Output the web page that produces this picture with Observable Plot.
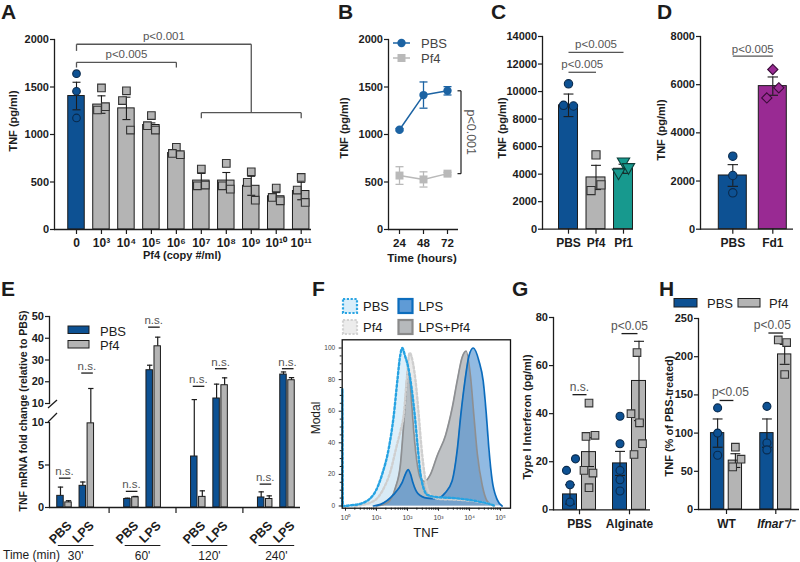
<!DOCTYPE html>
<html>
<head>
<meta charset="utf-8">
<script src="https://cdn.jsdelivr.net/npm/d3@7"></script>
<script src="https://cdn.jsdelivr.net/npm/@observablehq/plot@0.6"></script>
<style>
  html, body { margin: 0; padding: 0; background: #fff; }
  #fig { position: relative; width: 800px; height: 562px; overflow: hidden; background: #fff; }
</style>
</head>
<body>
<div id="fig"></div>
<script>
// ================= DATA =================
// Panel A
const aLabels = ["0","10³","10⁴","10⁵","10⁶","10⁷","10⁸","10⁹","10¹⁰","10¹¹"];
const aMean = [1405,1315,1275,1100,805,515,515,460,350,405];
const aSem  = [145,92,118,22,25,75,85,100,38,92];
const aRep1 = [1640,1490,1460,1199,865,636,696,608,436,548];
const aRep2 = [1455,1258,1357,1093,801,460,460,496,337,415];
const aRep3 = [1174,1293,1047,1047,787,468,425,309,302,285];
const aYTicks = [0,500,1000,1500,2000];

// Panel B
const bTimes = [24,48,72];
const bPBS = [1050,1415,1460];
const bPBSsem = [12,138,44];
const bPf4 = [568,527,588];
const bPf4sem = [93,80,14];
const bYTicks = [0,500,1000,1500,2000];

// Panel C
const cLabels = ["PBS","Pf4","Pf1"];
const cMean = [9000,3760,4390];
const cSem = [820,880,330];
const cRep1 = [10560,5400,4916];
const cRep2 = [9000,2810,4117];
const cRep3 = [8950,3220,4505];
const cYTicks = [0,2000,4000,6000,8000,10000,12000,14000];

// Panel D
const dLabels = ["PBS","Fd1"];
const dMean = [2230,5940];
const dSem = [450,380];
const dRep1 = [3030,6630];
const dRep2 = [2230,5870];
const dRep3 = [1510,5450];
const dYTicks = [0,2000,4000,6000,8000];

// Panel E (order: 30' PBS, 30' LPS, 60' PBS, 60' LPS, 120' PBS, 120' LPS, 240' PBS, 240' LPS)
const eTimes = ["30'","60'","120'","240'"];
const eStim = ["PBS","LPS"];
const ePBSmean = [1.37,2.55,1.0,25.3,6.0,12.3,1.18,23.3];
const ePBSerr  = [2.4,3.0,1.1,27.6,11.8,18.9,1.84,24.5];
const ePf4mean = [0.6,9.9,1.2,36.3,1.25,18.4,1.0,20.7];
const ePf4err  = [0.8,16.9,1.3,40.5,1.96,21.8,1.37,21.9];
const eNsLevel = [3.45,24.0,1.9,45.1,17.9,26.0,2.75,26.0];
const eTopTicks = [10,20,30,40,50];
const eBotTicks = [0,5,10];

// Panel F (x = log10 TNF, y = % of max)
const fPBS = [[-0.106,0],[-0.1,74],[-0.085,0],[0.2,0.5],[0.48,1.4],[0.91,7.4],[1.18,20],[1.4,37],[1.56,58],[1.67,79],[1.77,96],[1.83,100],[1.92,95],[2.02,88],[2.1,79],[2.23,58],[2.33,37],[2.42,20],[2.64,7],[3.0,5.5],[3.5,5],[4.25,3],[4.6,1.5],[4.85,0]];
const fPf4 = [[0.3,0],[0.9,3],[1.2,10],[1.45,22],[1.65,38],[1.78,48],[1.88,58],[1.97,79],[2.07,97],[2.16,92],[2.26,79],[2.36,58],[2.45,37],[2.55,20],[2.74,7],[3.0,4.5],[3.6,4],[4.2,3],[4.6,1.5],[4.85,0]];
const fLPS = [[0.9,0],[1.13,1],[1.54,7],[1.83,15],[1.95,21],[2.02,23],[2.1,20],[2.17,15],[2.33,8],[2.63,5],[2.95,4.6],[3.2,8],[3.44,16],[3.6,35],[3.72,58],[3.85,79],[3.98,95],[4.12,100],[4.3,92],[4.44,79],[4.54,58],[4.62,37],[4.73,16],[4.89,4],[5.05,0]];
const fLPSPf4 = [[1.0,0],[1.35,2],[1.61,11.6],[1.77,26],[1.86,47.5],[1.94,68.5],[2.01,86],[2.08,80],[2.12,68.5],[2.2,47.5],[2.31,27],[2.42,17.5],[2.55,15.5],[2.74,20],[2.96,32],[3.23,45],[3.44,62],[3.6,79],[3.76,94],[3.89,98],[4.03,82],[4.14,57],[4.25,33],[4.41,13],[4.57,3],[4.78,0]];
const fYTicks = [0,20,40,60,80,100];
const fXTicks = [0,1,2,3,4,5];
const fXLabels = ["10⁰","10¹","10²","10³","10⁴","10⁵"];

// Panel G
const gGroups = ["PBS","Alginate"];
const gPBSmean = [6.4,19.3];
const gPBSsem = [4.0,5.0];
const gPf4mean = [24.0,53.6];
const gPf4sem = [6.0,16.5];
const gBluePBS = [16.4,21.2,10.4,3.2];
const gGrayPBS = [44.4,30.5,31,16.4,15.3,9.2];
const gBlueAlg = [38.9,27.5,16.4,12.5,7.8];
const gGrayAlg = [65.4,40,36.2,27.5,23];
const gYTicks = [0,20,40,60,80];

// Panel H
const hGroups = ["WT","Ifnar⁻/⁻"];
const hPBSmean = [100,100];
const hPBSsem = [18.5,18.5];
const hPf4mean = [64,203];
const hPf4sem = [9,13];
const hBlueWT = [133,100,71];
const hGrayWT = [81.5,55.8,65.8];
const hBlueKO = [135,87,78];
const hGrayKO = [222,218.5,176.7];
const hYTicks = [0,50,100,150,200,250];

// ================= STYLE / HELPERS =================
const FONT = "'Liberation Sans', Arial, Helvetica, sans-serif";
const BLUE = "#0d5193", BLUE2 = "#1c63a3", GRAY = "#b4b4b4", LGRAY = "#b9b9b9";
const TEAL = "#17998e", PURPLE = "#992a93";
const INK = "#1c1c1c", ANN = "#555555";
const fig = document.getElementById("fig");
const plain = d => String(d);

function put(el, left, top) {
  el.style.position = "absolute"; el.style.left = left + "px"; el.style.top = top + "px";
  fig.appendChild(el); return el;
}
function sty(extra = {}) {
  return Object.assign({fontFamily: FONT, fontSize: "11px", fontWeight: "bold", color: INK,
    background: "transparent", overflow: "visible"}, extra);
}
function bars(items, half, fill) {
  return Plot.rect(items, {x1: d => d.x - half, x2: d => d.x + half, y1: 0, y2: "mean",
    fill, stroke: INK, strokeWidth: 1});
}
function errs(items, cap, stroke = INK, sw = 1.1) {
  const hi = d => d.mean + d.sem, lo = d => d.mean - d.sem;
  return [
    Plot.ruleX(items, {x: "x", y1: lo, y2: hi, stroke, strokeWidth: sw}),
    Plot.link(items, {x1: d => d.x - cap, x2: d => d.x + cap, y1: hi, y2: hi, stroke, strokeWidth: sw}),
    Plot.link(items, {x1: d => d.x - cap, x2: d => d.x + cap, y1: lo, y2: lo, stroke, strokeWidth: sw})
  ];
}
function bracketSegs(list) {
  return list.flatMap(b => [
    {x1: b.from, y1: b.y, x2: b.to, y2: b.y},
    {x1: b.from, y1: b.y, x2: b.from, y2: b.yl},
    {x1: b.to, y1: b.y, x2: b.to, y2: b.yr}
  ]);
}
function axisLines() {
  return [Plot.ruleY([0], {stroke: INK, strokeWidth: 1.3}), Plot.frame({anchor: "left", stroke: INK, strokeWidth: 1.3})];
}
function yAxis(ticks, extra = {}) {
  return Plot.axisY(Object.assign({ticks, tickFormat: plain, tickSize: 4, tickPadding: 1.5, label: null, strokeWidth: 1.2}, extra));
}

// ================= PANEL A =================
const A_JIT = [0, -0.16, 0.16];
const aItems = aMean.map((m, i) => ({x: i, mean: m, sem: aSem[i]}));
const aPts = [aRep1, aRep2, aRep3].flatMap((rep, r) => rep.map((v, i) => ({i, x: i + (i === 0 ? 0 : A_JIT[r]), v})));
const aBrackets = [
  {from: 0, to: 4, y: 1760, yl: 1705, yr: 1705, label: "p<0.005"},
  {from: 5, to: 9, y: 1230, yl: 1172, yr: 1172, label: ""},
  {from: 0, to: 7, y: 1950, yl: 1880, yr: 1230, label: "p<0.001"}
];
put(Plot.plot({
  width: 315, height: 270, marginLeft: 54, marginRight: 4, marginTop: 39, marginBottom: 41,
  style: sty(),
  x: {domain: [0, 9], range: [76, 300.7], axis: null},
  y: {domain: [0, 2000], axis: null},
  marks: [
    bars(aItems.filter(d => d.x === 0), 0.33, BLUE),
    bars(aItems.filter(d => d.x > 0), 0.33, GRAY),
    errs(aItems, 0.16),
    Plot.dot(aPts.filter(d => d.i === 0), {x: "x", y: "v", r: 3.8, fill: BLUE, stroke: "#0a2a4c", strokeWidth: 1.1}),
    Plot.dot(aPts.filter(d => d.i > 0), {x: "x", y: "v", r: 4.3, symbol: "square", fill: GRAY, stroke: "#333", strokeWidth: 1.1}),
    axisLines(),
    yAxis(aYTicks),
    Plot.axisX({ticks: d3.range(aLabels.length), tickFormat: i => aLabels[i], tickSize: 5, tickPadding: 4, label: null, strokeWidth: 1.2, fontSize: 12}),
    Plot.link(bracketSegs(aBrackets), {x1: "x1", y1: "y1", x2: "x2", y2: "y2", stroke: ANN, strokeWidth: 1.3}),
    Plot.text(aBrackets.filter(b => b.label), {x: b => (b.from + b.to) / 2, y: "y", text: "label", dy: -4.5, lineAnchor: "bottom", fontWeight: "normal", fontSize: 11.5, fill: ANN})
  ]
}), 0, 0);

// ================= PANEL B =================
const bPBSd = bTimes.map((t, i) => ({x: t, mean: bPBS[i], sem: bPBSsem[i]}));
const bPf4d = bTimes.map((t, i) => ({x: t, mean: bPf4[i], sem: bPf4sem[i]}));
const bLast = bTimes.length - 1;
const bBr = {x: bTimes[bLast] + 13.5, xt: bTimes[bLast] + 10, top: bPBS[bLast], bottom: bPf4[bLast]};
put(Plot.plot({
  width: 180, height: 270, marginLeft: 88, marginRight: 22, marginTop: 39, marginBottom: 41,
  style: sty(),
  x: {domain: [24, 72], range: [99, 147], axis: null},
  y: {domain: [0, 2000], axis: null},
  marks: [
    axisLines(),
    yAxis(bYTicks),
    Plot.axisX({ticks: bTimes, tickSize: 5, tickPadding: 4, label: null, strokeWidth: 1.2, fontSize: 11.5}),
    errs(bPf4d, 4, LGRAY, 1.3),
    Plot.line(bPf4d, {x: "x", y: "mean", stroke: LGRAY, strokeWidth: 1.5}),
    Plot.dot(bPf4d, {x: "x", y: "mean", symbol: "square", r: 4.5, fill: LGRAY}),
    errs(bPBSd, 4, BLUE2, 1.3),
    Plot.line(bPBSd, {x: "x", y: "mean", stroke: BLUE2, strokeWidth: 1.5}),
    Plot.dot(bPBSd, {x: "x", y: "mean", r: 4.2, fill: BLUE2}),
    Plot.link([
      {x1: bBr.x, y1: bBr.top, x2: bBr.x, y2: bBr.bottom},
      {x1: bBr.xt, y1: bBr.top, x2: bBr.x, y2: bBr.top},
      {x1: bBr.xt, y1: bBr.bottom, x2: bBr.x, y2: bBr.bottom}
    ], {x1: "x1", y1: "y1", x2: "x2", y2: "y2", stroke: INK, strokeWidth: 1.2}),
    Plot.text(["p<0.001"], {x: bTimes[bLast] + 23, y: (bBr.top + bBr.bottom) / 2, text: d => d, rotate: 90, fontWeight: "normal", fontSize: 12.5, fill: ANN})
  ]
}), 300, 0);

// ================= PANEL C =================
const C_JIT = [0, -0.18, 0.18];
const cItems = cMean.map((m, i) => ({x: i, mean: m, sem: cSem[i]}));
const cPts = [cRep1, cRep2, cRep3].flatMap((rep, r) => rep.map((v, i) => ({i, x: i + C_JIT[r], v})));
const cBrackets = [
  {from: 0, to: 1, y: 11400, label: "p<0.005"},
  {from: 0, to: 2, y: 12850, label: "p<0.005"}
];
put(Plot.plot({
  width: 145, height: 270, marginLeft: 42, marginRight: 12, marginTop: 36, marginBottom: 41.3,
  style: sty(),
  x: {domain: [0, 2], range: [68, 123], axis: null},
  y: {domain: [0, 14000], axis: null},
  marks: [
    bars(cItems.filter(d => d.x === 0), 0.345, BLUE),
    bars(cItems.filter(d => d.x === 1), 0.345, GRAY),
    bars(cItems.filter(d => d.x === 2), 0.345, TEAL),
    errs(cItems, 0.18),
    Plot.dot(cPts.filter(d => d.i === 0), {x: "x", y: "v", r: 4.2, fill: BLUE, stroke: "#0a2a4c", strokeWidth: 1.1}),
    Plot.dot(cPts.filter(d => d.i === 1), {x: "x", y: "v", r: 4.6, symbol: "square", fill: GRAY, stroke: "#333", strokeWidth: 1.1}),
    Plot.dot(cPts.filter(d => d.i === 2), {x: "x", y: "v", r: 4.6, symbol: "triangle", rotate: 180, fill: TEAL, stroke: "#0d3d38", strokeWidth: 1.1}),
    axisLines(),
    yAxis(cYTicks),
    Plot.axisX({ticks: d3.range(cLabels.length), tickFormat: i => cLabels[i], tickSize: 5, tickPadding: 4, label: null, strokeWidth: 1.2, fontSize: 12}),
    Plot.link(cBrackets, {x1: "from", x2: "to", y1: "y", y2: "y", stroke: ANN, strokeWidth: 1.3}),
    Plot.text(cBrackets, {x: b => (b.from + b.to) / 2, y: "y", text: "label", dy: -4, lineAnchor: "bottom", fontWeight: "normal", fontSize: 11.5, fill: ANN})
  ]
}), 500, 0);

// ================= PANEL D =================
const D_JIT = [[0, 0, 0], [0, 0.15, -0.15]];
const dItems = dMean.map((m, i) => ({x: i, mean: m, sem: dSem[i]}));
const dPts = [dRep1, dRep2, dRep3].flatMap((rep, r) => rep.map((v, i) => ({i, x: i + D_JIT[i][r], v})));
const dBrackets = [{from: 0, to: 1, y: 7183, label: "p<0.005"}];
put(Plot.plot({
  width: 145, height: 270, marginLeft: 45, marginRight: 7, marginTop: 36, marginBottom: 41.3,
  style: sty(),
  x: {domain: [0, 1], range: [77.3, 117.3], axis: null},
  y: {domain: [0, 8000], axis: null},
  marks: [
    bars(dItems.filter(d => d.x === 0), 0.35, BLUE),
    bars(dItems.filter(d => d.x === 1), 0.35, PURPLE),
    errs(dItems, 0.13),
    Plot.dot(dPts.filter(d => d.i === 0), {x: "x", y: "v", r: 4.2, fill: BLUE, stroke: "#0a2a4c", strokeWidth: 1.1}),
    Plot.dot(dPts.filter(d => d.i === 1), {x: "x", y: "v", r: 4.6, symbol: "diamond2", fill: PURPLE, stroke: "#3a0c38", strokeWidth: 1.1}),
    axisLines(),
    yAxis(dYTicks),
    Plot.axisX({ticks: d3.range(dLabels.length), tickFormat: i => dLabels[i], tickSize: 5, tickPadding: 4, label: null, strokeWidth: 1.2, fontSize: 12}),
    Plot.link(dBrackets, {x1: "from", x2: "to", y1: "y", y2: "y", stroke: ANN, strokeWidth: 1.3}),
    Plot.text(dBrackets, {x: b => (b.from + b.to) / 2, y: "y", text: "label", dy: -3, lineAnchor: "bottom", fontWeight: "normal", fontSize: 11.5, fill: ANN})
  ]
}), 655, 0);

// ================= PANEL E (broken axis: two plots) =================
const E_OFF = 0.18, E_HALF = 0.145, E_CAP = 0.12;
const eBars = [];
const eNs = [];
ePBSmean.forEach((_, k) => {
  const slot = Math.floor(k / 2) * 3 + (k % 2);
  eBars.push({x: slot - E_OFF, fill: BLUE, mean: ePBSmean[k], err: ePBSerr[k]});
  eBars.push({x: slot + E_OFF, fill: GRAY, mean: ePf4mean[k], err: ePf4err[k]});
  eNs.push({x: slot, y: eNsLevel[k]});
});
const eGroupsD = eTimes.map((t, g) => ({c: g * 3 + 0.5, label: t}));
const eDataSlots = eTimes.flatMap((t, g) => eStim.map((s, j) => ({x: g * 3 + j, label: s})));
const eGapSlots = eTimes.slice(1).map((t, g) => g * 3 + 2);
const eXs = {domain: [0, 10], range: [64, 287], axis: null};
const eTopBars = eBars.filter(d => d.mean > 10);
const eTopErr = eBars.filter(d => d.err > 10);
const eNsTop = eNs.filter(d => d.y > 10);
const eNsBot = eNs.filter(d => d.y <= 10);
const nsMarks = list => [
  Plot.link(list, {x1: d => d.x - 0.25, x2: d => d.x + 0.27, y1: "y", y2: "y", stroke: INK, strokeWidth: 1.3}),
  Plot.text(list, {x: "x", y: "y", text: () => "n.s.", dy: -3, lineAnchor: "bottom", fontWeight: "normal", fontSize: 11.5, fill: ANN})
];
// top segment (10-50)
put(Plot.plot({
  width: 310, height: 120, marginLeft: 49, marginRight: 10, marginTop: 26, marginBottom: 7,
  style: sty({overflow: "hidden"}),
  x: eXs,
  y: {domain: [10, 50], axis: null},
  marks: [
    Plot.rect(eTopBars.filter(d => d.fill === BLUE), {x1: d => d.x - E_HALF, x2: d => d.x + E_HALF, y1: 5, y2: "mean", fill: BLUE, stroke: INK, strokeWidth: 1}),
    Plot.rect(eTopBars.filter(d => d.fill === GRAY), {x1: d => d.x - E_HALF, x2: d => d.x + E_HALF, y1: 5, y2: "mean", fill: GRAY, stroke: INK, strokeWidth: 1}),
    Plot.ruleX(eTopErr, {x: "x", y1: d => d.mean > 10 ? d.mean : 5, y2: "err", stroke: INK, strokeWidth: 1.2}),
    Plot.link(eTopErr, {x1: d => d.x - E_CAP, x2: d => d.x + E_CAP, y1: "err", y2: "err", stroke: INK, strokeWidth: 1.2}),
    Plot.frame({anchor: "left", stroke: INK, strokeWidth: 1.3}),
    yAxis(eTopTicks),
    nsMarks(eNsTop)
  ]
}), 0, 290);
// bottom segment (0-10)
put(Plot.plot({
  width: 310, height: 152, marginLeft: 49, marginRight: 10, marginTop: 12, marginBottom: 55,
  style: sty({overflow: "hidden"}),
  x: eXs,
  y: {domain: [0, 10], axis: null},
  marks: [
    Plot.rect(eBars.filter(d => d.fill === BLUE), {x1: d => d.x - E_HALF, x2: d => d.x + E_HALF, y1: 0, y2: d => d.mean <= 10 ? d.mean : 12, fill: BLUE, stroke: INK, strokeWidth: 1}),
    Plot.rect(eBars.filter(d => d.fill === GRAY), {x1: d => d.x - E_HALF, x2: d => d.x + E_HALF, y1: 0, y2: d => d.mean <= 10 ? d.mean : 12, fill: GRAY, stroke: INK, strokeWidth: 1}),
    Plot.ruleX(eBars.filter(d => d.mean < 10), {x: "x", y1: "mean", y2: d => d.err <= 10 ? d.err : 12, stroke: INK, strokeWidth: 1.2}),
    Plot.link(eBars.filter(d => d.err <= 10), {x1: d => d.x - E_CAP, x2: d => d.x + E_CAP, y1: "err", y2: "err", stroke: INK, strokeWidth: 1.2}),
    axisLines(),
    yAxis(eBotTicks),
    Plot.axisX({ticks: eGapSlots, tickFormat: () => "", tickSize: 6, label: null, strokeWidth: 1.2}),
    Plot.text(eDataSlots, {x: "x", y: () => 0, text: "label", rotate: () => -45, textAnchor: "end", dx: 5, dy: 16, fontSize: 12.5}),
    nsMarks(eNsBot),
    Plot.link(eGroupsD, {x1: d => d.c - 0.8, x2: d => d.c + 0.8, y1: 0, y2: 0, dy: 38, stroke: INK, strokeWidth: 1.2}),
    Plot.text(eGroupsD, {x: "c", y: 0, text: "label", dy: 52, lineAnchor: "bottom", fontWeight: "normal", fontSize: 12})
  ]
}), 0, 410);

// ================= PANEL F =================
const toPts = arr => arr.map(([x, y]) => ({x, y}));
const fMinor = d3.range(0, 5).flatMap(d => d3.range(2, 10).map(k => d + Math.log10(k)));
const fCurve = "monotone-x";
const DOT = "2.2,2.2";
put(Plot.plot({
  width: 200, height: 250, marginLeft: 21.7, marginRight: 10, marginTop: 49.3, marginBottom: 32.3,
  style: sty({fontWeight: "normal"}),
  x: {domain: [-0.106, 5.32], axis: null},
  y: {domain: [-1.4, 105.2], axis: null},
  marks: [
    Plot.areaY(toPts(fPf4), {x: "x", y: "y", fill: "#e6e6e6", fillOpacity: 0.85, curve: fCurve}),
    Plot.areaY(toPts(fPBS), {x: "x", y: "y", fill: "#d2e9f8", fillOpacity: 0.75, curve: fCurve}),
    Plot.areaY(toPts(fLPSPf4), {x: "x", y: "y", fill: "#a9adb2", fillOpacity: 0.75, curve: fCurve}),
    Plot.areaY(toPts(fLPS), {x: "x", y: "y", fill: "#4d8fd1", fillOpacity: 0.62, curve: fCurve}),
    Plot.lineY(toPts(fLPSPf4), {x: "x", y: "y", stroke: "#8d8f92", strokeWidth: 1.7, curve: fCurve}),
    Plot.lineY(toPts(fLPS), {x: "x", y: "y", stroke: "#0b6cbd", strokeWidth: 1.7, curve: fCurve}),
    Plot.lineY(toPts(fPf4), {x: "x", y: "y", stroke: "#cfcfcf", strokeWidth: 2.4, strokeDasharray: DOT, curve: fCurve}),
    Plot.lineY(toPts(fPBS), {x: "x", y: "y", stroke: "#27a3e2", strokeWidth: 2.4, strokeDasharray: DOT, curve: fCurve}),
    Plot.frame({stroke: "#111", strokeWidth: 1.3}),
    Plot.axisY({ticks: fYTicks, tickFormat: plain, tickSize: 3, tickPadding: 4, label: null, fontSize: 6.5, fontWeight: "normal", fill: "#444"}),
    Plot.axisY({ticks: d3.range(5, 100, 5).filter(v => v % 20 !== 0), tickSize: 2, tickFormat: () => "", label: null}),
    Plot.axisX({ticks: fXTicks, tickFormat: d => fXLabels[d], tickSize: 3, tickPadding: 4, label: null, fontSize: 7, fontWeight: "normal", fill: "#444"}),
    Plot.axisX({ticks: fMinor, tickSize: 2, tickFormat: () => "", label: null})
  ]
}), 320, 290);

// ================= PANEL G =================
const G_OFF = 0.19, G_HALF = 0.14, G_CAP = 0.1;
const gBlue = gPBSmean.map((m, g) => ({x: g - G_OFF, mean: m, sem: gPBSsem[g]}));
const gGray = gPf4mean.map((m, g) => ({x: g + G_OFF, mean: m, sem: gPf4sem[g]}));
const J_BLUE = [[-0.07, 0.11, 0, 0], [0, 0, 0, 0, 0]];
const J_GRAY = [[0, -0.06, 0.12, -0.1, 0.08, 0], [-0.04, -0.16, 0.01, 0.07, -0.1]];
const gBluePts = [gBluePBS, gBlueAlg].flatMap((arr, g) => arr.map((v, j) => ({x: g - G_OFF + J_BLUE[g][j], v})));
const gGrayPts = [gGrayPBS, gGrayAlg].flatMap((arr, g) => arr.map((v, j) => ({x: g + G_OFF + J_GRAY[g][j], v})));
const gAnn = [{x: 0, y: 47.9, w: 0.14, label: "n.s."}, {x: 1, y: 73.3, w: 0.16, label: "p<0.05"}];
put(Plot.plot({
  width: 140, height: 272, marginLeft: 38, marginRight: 5, marginTop: 27, marginBottom: 52.7,
  style: sty(),
  x: {domain: [0, 1], range: [64, 114], axis: null},
  y: {domain: [0, 80], axis: null},
  marks: [
    bars(gBlue, G_HALF, BLUE),
    bars(gGray, G_HALF, GRAY),
    errs(gBlue, G_CAP), errs(gGray, G_CAP),
    Plot.dot(gBluePts, {x: "x", y: "v", r: 4, fill: BLUE, stroke: "#0a2a4c", strokeWidth: 1.1}),
    Plot.dot(gGrayPts, {x: "x", y: "v", r: 4.3, symbol: "square", fill: GRAY, stroke: "#333", strokeWidth: 1.1}),
    axisLines(),
    yAxis(gYTicks),
    Plot.axisX({ticks: [0, 1], tickFormat: i => gGroups[i], tickSize: 5, tickPadding: 5, label: null, strokeWidth: 1.2, fontSize: 12}),
    Plot.link(gAnn, {x1: d => d.x - d.w, x2: d => d.x + d.w, y1: "y", y2: "y", stroke: INK, strokeWidth: 1.3}),
    Plot.text(gAnn, {x: "x", y: "y", text: "label", dy: -4, lineAnchor: "bottom", fontWeight: "normal", fontSize: 12, fill: ANN})
  ]
}), 515, 290);

// ================= PANEL H =================
const H_OFF = 0.18, H_HALF = 0.135, H_CAP = 0.1;
const hBlue = hPBSmean.map((m, g) => ({x: g - H_OFF, mean: m, sem: hPBSsem[g]}));
const hGray = hPf4mean.map((m, g) => ({x: g + H_OFF, mean: m, sem: hPf4sem[g]}));
const HJ_GRAY = [[0, -0.055, 0.115], [-0.13, 0.04, 0]];
const hBluePts = [hBlueWT, hBlueKO].flatMap((arr, g) => arr.map(v => ({x: g - H_OFF, v})));
const hGrayPts = [hGrayWT, hGrayKO].flatMap((arr, g) => arr.map((v, j) => ({x: g + H_OFF + HJ_GRAY[g][j], v})));
const hAnn = [{x: 0, y: 142.7, w: 0.14, tx: 0.08, label: "p<0.05"}, {x: 1, y: 231, w: 0.15, tx: -0.07, label: "p<0.05"}];
put(Plot.plot({
  width: 145, height: 272, marginLeft: 43, marginRight: 1, marginTop: 28, marginBottom: 53,
  style: sty(),
  x: {domain: [0, 1], range: [71, 120.3], axis: null},
  y: {domain: [0, 250], axis: null},
  marks: [
    bars(hBlue, H_HALF, BLUE),
    bars(hGray, H_HALF, GRAY),
    errs(hBlue, H_CAP), errs(hGray, H_CAP),
    Plot.dot(hBluePts, {x: "x", y: "v", r: 4, fill: BLUE, stroke: "#0a2a4c", strokeWidth: 1.1}),
    Plot.dot(hGrayPts, {x: "x", y: "v", r: 4.3, symbol: "square", fill: GRAY, stroke: "#333", strokeWidth: 1.1}),
    axisLines(),
    yAxis(hYTicks),
    Plot.axisX({ticks: [0, 1], tickFormat: () => "", tickSize: 5, label: null, strokeWidth: 1.2}),
    Plot.axisX({ticks: [0], tickFormat: i => hGroups[i], tickSize: 0, tickPadding: 10, label: null, fontSize: 12}),
    Plot.axisX({ticks: [1], tickFormat: i => hGroups[i], tickSize: 0, tickPadding: 10, label: null, fontSize: 12, fontStyle: "italic"}),
    Plot.link(hAnn, {x1: d => d.x - d.w, x2: d => d.x + d.w, y1: "y", y2: "y", stroke: INK, strokeWidth: 1.3}),
    Plot.text(hAnn, {x: d => d.x + d.tx, y: "y", text: "label", dy: -4.5, lineAnchor: "bottom", fontWeight: "normal", fontSize: 12, fill: ANN})
  ]
}), 655, 290);

// ================= OVERLAY: letters, titles, legends =================
const ov = d3.select(fig).append("svg").attr("width", 800).attr("height", 562)
  .style("position", "absolute").style("left", "0px").style("top", "0px")
  .attr("font-family", FONT);
function T(x, y, s, o = {}) {
  const {size = 11, weight = "bold", anchor = "start", rotate = 0, fill = INK, fstyle = "normal"} = o;
  return ov.append("text").attr("transform", `translate(${x},${y}) rotate(${rotate})`)
    .attr("text-anchor", anchor).attr("font-size", size).attr("font-weight", weight)
    .attr("font-style", fstyle).attr("fill", fill).text(s);
}
// panel letters
[["A", 1, 19], ["B", 338, 19], ["C", 491, 19], ["D", 657, 19],
 ["E", 1, 296], ["F", 312, 296], ["G", 512, 296], ["H", 659, 296]]
  .forEach(([s, x, y]) => T(x, y, s, {size: 21}));
// axis titles
T(16.5, 121, "TNF (pg/ml)", {rotate: -90, anchor: "middle"});
T(348, 128, "TNF (pg/ml)", {rotate: -90, anchor: "middle"});
T(506, 128, "TNF (pg/ml)", {rotate: -90, anchor: "middle"});
T(665, 130, "TNF (pg/ml)", {rotate: -90, anchor: "middle"});
T(27, 411, "TNF mRNA fold change (relative to PBS)", {rotate: -90, anchor: "middle", size: 10.5});
T(320, 418, "Modal", {rotate: -90, anchor: "middle", weight: "normal", size: 12});
T(531, 417, "Type I Interferon (pg/ml)", {rotate: -90, anchor: "middle"});
T(673, 416, "TNF (% of PBS-treated)", {rotate: -90, anchor: "middle"});
T(182, 259, "Pf4 (copy #/ml)", {anchor: "middle"});
T(422, 262, "Time (hours)", {anchor: "middle", size: 11.5});
T(426, 537, "TNF", {anchor: "middle", weight: "normal", size: 13});
T(3, 559, "Time (min)", {weight: "normal", size: 12});
// E axis break marks
ov.append("line").attr("x1", 48).attr("y1", 408).attr("x2", 57).attr("y2", 400).attr("stroke", INK).attr("stroke-width", 1.3);
ov.append("line").attr("x1", 48).attr("y1", 422).attr("x2", 57).attr("y2", 413).attr("stroke", INK).attr("stroke-width", 1.3);
// B legend
ov.append("line").attr("x1", 393).attr("y1", 43).attr("x2", 410).attr("y2", 43).attr("stroke", BLUE2).attr("stroke-width", 1.5);
ov.append("circle").attr("cx", 401.5).attr("cy", 43).attr("r", 4.2).attr("fill", BLUE2);
T(421, 47.5, "PBS", {weight: "normal", size: 13, fill: "#444"});
ov.append("line").attr("x1", 393).attr("y1", 58).attr("x2", 410).attr("y2", 58).attr("stroke", LGRAY).attr("stroke-width", 1.5);
ov.append("rect").attr("x", 397.5).attr("y", 54).attr("width", 8).attr("height", 8).attr("fill", LGRAY);
T(421, 62.5, "Pf4", {weight: "normal", size: 13, fill: "#444"});
// E legend
ov.append("rect").attr("x", 68).attr("y", 326).attr("width", 21).attr("height", 7.5).attr("fill", BLUE).attr("stroke", INK);
ov.append("rect").attr("x", 68).attr("y", 340.5).attr("width", 21).attr("height", 7.5).attr("fill", GRAY).attr("stroke", INK);
T(100, 335.5, "PBS", {weight: "normal", size: 13});
T(100, 349.5, "Pf4", {weight: "normal", size: 13});
// F legend
const fLeg = [
  {x: 343, y: 299, fill: "#d9eefa", stroke: "#2ba5e3", dash: "2.2,1.6", label: "PBS"},
  {x: 398.5, y: 299, fill: "#5f9bd6", stroke: "#0c6dbd", dash: null, label: "LPS"},
  {x: 343, y: 320, fill: "#ececec", stroke: "#d2d2d2", dash: "2.2,1.6", label: "Pf4"},
  {x: 398.5, y: 320, fill: "#b6b9bc", stroke: "#8a8a8a", dash: null, label: "LPS+Pf4"}
];
fLeg.forEach(d => {
  const r = ov.append("rect").attr("x", d.x).attr("y", d.y).attr("width", 14).attr("height", 14)
    .attr("fill", d.fill).attr("stroke", d.stroke).attr("stroke-width", 2.2);
  if (d.dash) r.attr("stroke-dasharray", d.dash);
  T(d.x + 20, d.y + 12, d.label, {weight: "normal", size: 13});
});
// H legend
ov.append("rect").attr("x", 674).attr("y", 298.5).attr("width", 23).attr("height", 8.5).attr("fill", BLUE).attr("stroke", INK);
T(707, 307.5, "PBS", {weight: "normal", size: 13});
ov.append("rect").attr("x", 738).attr("y", 298.5).attr("width", 22).attr("height", 8.5).attr("fill", GRAY).attr("stroke", INK);
T(769, 307.5, "Pf4", {weight: "normal", size: 13});
</script>
</body>
</html>
